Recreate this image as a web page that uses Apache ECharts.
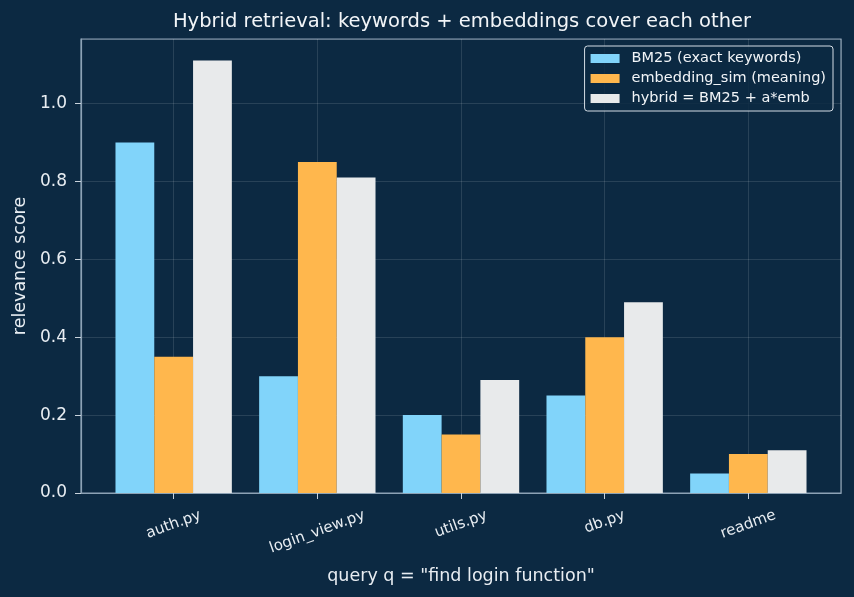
<!DOCTYPE html>
<html>
<head>
<meta charset="utf-8">
<script src="https://cdn.jsdelivr.net/npm/echarts@6/dist/echarts.min.js"></script>
<style>
  html, body { margin: 0; padding: 0; background: #0c2942; }
  #main { width: 854px; height: 597px; }
</style>
</head>
<body>
<div id="main"></div>
<script>
// 数据
var files = ['auth.py', 'login_view.py', 'utils.py', 'db.py', 'readme'];
var bm25 = [0.90, 0.30, 0.20, 0.25, 0.05];
var embSim = [0.35, 0.85, 0.15, 0.40, 0.10];
var hybrid = [1.11, 0.81, 0.29, 0.49, 0.11];
var yTicks = [0.0, 0.2, 0.4, 0.6, 0.8, 1.0];

var FONT = 'DejaVu Sans';
var TXT = '#e8edf2';
var XFS = 15;

var chart = echarts.init(document.getElementById('main'), null, {renderer: 'canvas'});

// 值轴上放柱子，位置取类别序号
function pairs(arr){
  return arr.map(function(v, i){ return [i, v]; });
}

var barW = 760 / 5.29 * 0.27;

// 旋转标签顶端对齐：按文字宽度下移
var ctx = document.createElement('canvas').getContext('2d');
ctx.font = XFS + 'px "' + FONT + '"';
var widths = files.map(function(f){ return ctx.measureText(f).width; });
var s20 = Math.sin(20 * Math.PI / 180), c20 = Math.cos(20 * Math.PI / 180);
var centers = widths.map(function(w){ return 524.5 + (w - widths[0]) * s20 / 2; });
var minC = Math.min.apply(null, centers);
var rich = {};
files.forEach(function(f, i){
  var Y = centers[i] - minC;
  rich['l' + i] = {
    color: TXT, fontSize: XFS, fontFamily: FONT,
    padding: [2 * Y * c20, 2 * Y * s20, 0, 0]
  };
});

var option = {
  backgroundColor: '#0c2942',
  animation: false,
  textStyle: { fontFamily: FONT },
  title: {
    text: 'Hybrid retrieval: keywords + embeddings cover each other',
    left: 457, textAlign: 'center',
    top: 7,
    textStyle: { color: '#f2f5f8', fontSize: 19.5, fontWeight: 'normal', fontFamily: FONT }
  },
  legend: {
    orient: 'vertical',
    right: 21, top: 46,
    padding: [5, 7, 5, 6],
    icon: 'rect',
    itemWidth: 29, itemHeight: 9, itemGap: 5,
    backgroundColor: 'rgba(12,41,66,0.85)',
    borderColor: '#d5dde5', borderWidth: 1, borderRadius: 3,
    textStyle: { color: '#f2f5f8', fontSize: 14.5, fontFamily: FONT, padding: [0, 0, 0, 7] },
    data: ['BM25 (exact keywords)', 'embedding_sim (meaning)', 'hybrid = BM25 + a*emb']
  },
  grid: { left: 81, right: 13, top: 39, bottom: 104, show: true, borderColor: '#8da2b5', borderWidth: 1.2 },
  xAxis: {
    type: 'value',
    min: -0.645, max: 4.645,
    name: 'query q = "find login function"',
    nameLocation: 'middle', nameGap: 74,
    nameTextStyle: { color: TXT, fontSize: 17.5, fontFamily: FONT },
    axisLine: { show: true, onZero: false, lineStyle: { color: '#8da2b5', width: 1.2 } },
    axisTick: { show: true, length: 6, lineStyle: { color: '#c8d2dc' } },
    splitLine: { show: true, lineStyle: { color: 'rgba(255,255,255,0.15)', width: 0.8 } },
    axisLabel: {
      showMinLabel: false, showMaxLabel: false,
      rotate: 20, align: 'center', verticalAlign: 'middle', margin: minC - 493,
      color: TXT, fontSize: XFS, fontFamily: FONT,
      formatter: function(v){
        var i = Math.round(v);
        return files[i] ? '{l' + i + '|' + files[i] + '}' : '';
      },
      rich: rich
    }
  },
  yAxis: {
    type: 'value',
    min: 0, max: 1.1655, interval: 0.2,
    name: 'relevance score',
    nameLocation: 'middle', nameGap: 50,
    nameTextStyle: { color: TXT, fontSize: 17.5, fontFamily: FONT },
    axisLine: { show: true, onZero: false, lineStyle: { color: '#8da2b5', width: 1.2 } },
    axisTick: { show: true, length: 6, lineStyle: { color: '#c8d2dc' } },
    splitLine: { show: true, lineStyle: { color: 'rgba(255,255,255,0.15)', width: 0.8 } },
    axisLabel: {
      showMaxLabel: false, margin: 14,
      color: TXT, fontSize: 17, fontFamily: FONT,
      formatter: function(v){ return v.toFixed(1); }
    }
  },
  series: [
    { name: 'BM25 (exact keywords)', type: 'bar', data: pairs(bm25), barWidth: barW, barGap: '0%',
      itemStyle: { color: '#81d4fa' } },
    { name: 'embedding_sim (meaning)', type: 'bar', data: pairs(embSim), barWidth: barW, barGap: '0%',
      itemStyle: { color: '#ffb74d' } },
    { name: 'hybrid = BM25 + a*emb', type: 'bar', data: pairs(hybrid), barWidth: barW, barGap: '0%',
      itemStyle: { color: '#e8eaeb' } }
  ]
};

chart.setOption(option);
</script>
</body>
</html>
